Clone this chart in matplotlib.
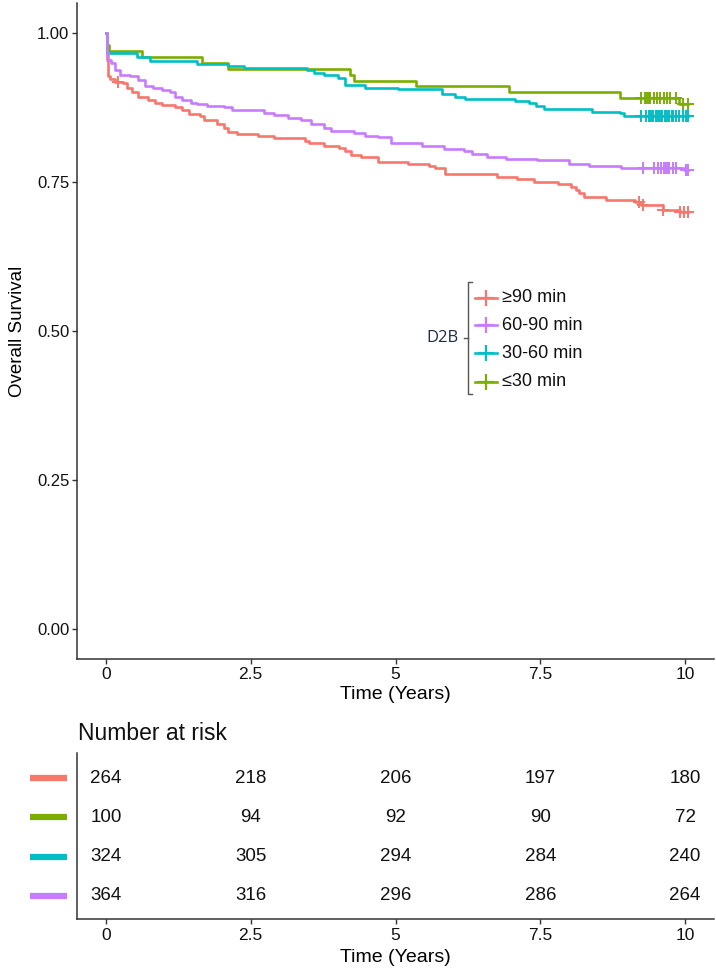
import numpy as np
import matplotlib
matplotlib.use('Agg')
from matplotlib import pyplot as plt
from matplotlib.lines import Line2D
import matplotlib.transforms as mtrans

plt.rcParams['font.family'] = ['Liberation Sans', 'DejaVu Sans']

# Kaplan-Meier step points (time in years, survival)
red_t = [0, 0.01, 0.04, 0.07, 0.16, 0.30, 0.36, 0.45, 0.56, 0.73, 0.85, 0.97, 1.20, 1.31, 1.43,
         1.63, 1.69, 1.92, 2.04, 2.10, 2.27, 2.62, 2.90, 3.43, 3.51, 3.77, 4.03, 4.12, 4.24, 4.41,
         4.70, 5.22, 5.57, 5.68, 5.86, 6.75, 7.10, 7.39, 7.80, 8.03, 8.11, 8.17, 8.26, 8.63, 9.13,
         9.24, 9.62, 9.91]
red_s = [1.0, 0.955, 0.927, 0.922, 0.918, 0.916, 0.907, 0.900, 0.892, 0.888, 0.883, 0.879, 0.875, 0.870, 0.864,
         0.860, 0.854, 0.847, 0.840, 0.834, 0.831, 0.827, 0.823, 0.819, 0.815, 0.810, 0.807, 0.801, 0.795, 0.792,
         0.784, 0.780, 0.776, 0.773, 0.763, 0.758, 0.755, 0.750, 0.747, 0.742, 0.737, 0.731, 0.725, 0.720, 0.717,
         0.711, 0.703, 0.700]
red_cens = [0.20, 9.21, 9.27, 9.62, 9.91, 9.99, 10.05]

purple_t = [0, 0.01, 0.04, 0.08, 0.16, 0.24, 0.42, 0.56, 0.68, 0.82, 0.97, 1.11, 1.20, 1.31, 1.46,
            1.57, 1.75, 2.04, 2.18, 2.73, 2.90, 3.14, 3.37, 3.54, 3.77, 3.89, 4.29, 4.47, 4.70, 4.93,
            5.45, 5.83, 6.18, 6.32, 6.58, 6.90, 7.45, 8.00, 8.35, 8.89, 9.99]
purple_s = [1.0, 0.966, 0.955, 0.949, 0.938, 0.930, 0.927, 0.921, 0.911, 0.907, 0.904, 0.900, 0.892, 0.888, 0.883,
            0.881, 0.878, 0.875, 0.870, 0.865, 0.862, 0.858, 0.854, 0.847, 0.840, 0.836, 0.832, 0.827, 0.825, 0.815,
            0.810, 0.805, 0.801, 0.797, 0.792, 0.789, 0.787, 0.780, 0.777, 0.773, 0.770]
purple_cens = [9.27, 9.47, 9.53, 9.59, 9.64, 9.67, 9.70, 9.73, 9.79, 9.85, 10.02, 10.05]

cyan_t = [0, 0.02, 0.53, 0.76, 1.57, 2.10, 2.38, 3.48, 3.60, 3.77, 4.01, 4.12, 4.47, 5.05, 5.80,
          6.03, 6.20, 7.07, 7.30, 7.42, 7.56, 8.40, 8.87, 8.95]
cyan_s = [1.0, 0.966, 0.960, 0.952, 0.948, 0.945, 0.941, 0.937, 0.932, 0.930, 0.924, 0.913, 0.908, 0.905, 0.898,
          0.893, 0.889, 0.886, 0.882, 0.878, 0.872, 0.868, 0.865, 0.861]
cyan_cens = [9.24, 9.33, 9.37, 9.41, 9.44, 9.49, 9.53, 9.56, 9.61, 9.65, 9.68, 9.73, 9.77, 9.80, 9.85,
             9.90, 9.97, 10.02, 10.05]

green_t = [0, 0.02, 0.06, 0.62, 1.65, 2.11, 4.21, 4.29, 5.35, 6.96, 8.87, 9.90]
green_s = [1.00, 0.98, 0.97, 0.96, 0.95, 0.94, 0.93, 0.92, 0.91, 0.90, 0.89, 0.88]
green_cens = [9.24, 9.31, 9.34, 9.37, 9.40, 9.46, 9.51, 9.57, 9.63, 9.69, 9.74, 9.85, 9.97, 10.05]

# number at risk
risk_times = [0, 2.5, 5, 7.5, 10]
risk_red = [264, 218, 206, 197, 180]
risk_green = [100, 94, 92, 90, 72]
risk_cyan = [324, 305, 294, 284, 240]
risk_purple = [364, 316, 296, 286, 264]

legend_labels = ['\u226590 min', '60-90 min', '30-60 min', '\u226430 min']

RED, GREEN, CYAN, PURPLE = '#F8766D', '#7CAE00', '#00BFC4', '#C77CFF'
AXC = '#333333'

W, H = 716, 969
fig = plt.figure(figsize=(W / 100, H / 100), dpi=100)

def fx(px):
	return px / W

def fy(py):
	return 1 - py / H

ax = fig.add_axes([fx(77), fy(659), fx(714) - fx(77), fy(3) - fy(659)])

groups = [(red_t, red_s, red_cens, RED),
          (green_t, green_s, green_cens, GREEN),
          (cyan_t, cyan_s, cyan_cens, CYAN),
          (purple_t, purple_s, purple_cens, PURPLE)]

for z, (t, s, cens, col) in enumerate(groups):
	t = np.array(t)
	s = np.array(s)
	end = max(cens)
	ax.step(np.append(t, end), np.append(s, s[-1]), where='post', color=col, lw=1.9, zorder=3 + z)
	cy = s[np.searchsorted(t, cens, side='right') - 1]
	ax.plot(cens, cy, ls='none', marker='+', ms=9, mew=1.4, color=col, zorder=3 + z)

ax.set_xlim(-0.5, 10.5)
ax.set_ylim(-0.05, 1.05)
ax.set_xticks(risk_times)
ax.set_xticklabels(['0', '2.5', '5', '7.5', '10'])
ax.set_yticks([0, 0.25, 0.5, 0.75, 1.0])
ax.set_yticklabels(['0.00', '0.25', '0.50', '0.75', '1.00'])
for sp in ('top', 'right'):
	ax.spines[sp].set_visible(False)
for sp in ('left', 'bottom'):
	ax.spines[sp].set_color(AXC)
	ax.spines[sp].set_linewidth(1.1)
ax.tick_params(axis='both', colors=AXC, length=3.5, width=1.0, labelcolor='#111111')
ax.tick_params(axis='x', labelsize=12.5, pad=2)
ax.tick_params(axis='y', labelsize=12, pad=2)
ax.set_xlabel('Time (Years)', fontsize=14, labelpad=3)
ax.set_ylabel('Overall Survival', fontsize=13.5, labelpad=8)

# legend with bracket
leg_cols = [RED, PURPLE, CYAN, GREEN]
leg_rows = [298, 325, 353, 382]
for lab, col, ry in zip(legend_labels, leg_cols, leg_rows):
	fig.add_artist(Line2D([fx(475), fx(497)], [fy(ry), fy(ry)], color=col, lw=1.9))
	fig.add_artist(Line2D([fx(486)], [fy(ry)], marker='+', ms=11, mew=1.6, color=col))
	fig.text(fx(502), fy(ry), lab, fontsize=13, va='center', ha='left', color='#111111')
fig.add_artist(Line2D([fx(472), fx(468), fx(468), fx(472)], [fy(282), fy(282), fy(394), fy(394)],
                      color='#555555', lw=1.0))
fig.add_artist(Line2D([fx(464), fx(468)], [fy(338), fy(338)], color='#555555', lw=1.0))
fig.text(fx(459), fy(338), 'D2B', fontsize=12, va='center', ha='right', color='#1c2a48',
         family=['Open Sans', 'DejaVu Sans'])

# risk table
tab = fig.add_axes([fx(77), fy(919), fx(714) - fx(77), fy(753) - fy(919)])
rows = [(risk_red, RED), (risk_green, GREEN), (risk_cyan, CYAN), (risk_purple, PURPLE)]
trans = mtrans.blended_transform_factory(tab.transAxes, tab.transData)
for i, (vals, col) in enumerate(rows):
	yrow = len(rows) - i
	for xt, v in zip(risk_times, vals):
		tab.text(xt, yrow, str(v), ha='center', va='center', fontsize=13.5, color='#111111')
	tab.plot([-0.0738, -0.0157], [yrow, yrow], color=col, lw=4.5, transform=trans, clip_on=False,
	         solid_capstyle='butt')
tab.set_xlim(-0.5, 10.5)
tab.set_ylim(0.415, 4.636)
tab.set_xticks(risk_times)
tab.set_xticklabels(['0', '2.5', '5', '7.5', '10'])
tab.set_yticks([])
for sp in ('top', 'right'):
	tab.spines[sp].set_visible(False)
for sp in ('left', 'bottom'):
	tab.spines[sp].set_color(AXC)
	tab.spines[sp].set_linewidth(1.1)
tab.tick_params(axis='x', colors=AXC, length=3.5, width=1.0, labelcolor='#111111', labelsize=12.5, pad=3)
tab.set_xlabel('Time (Years)', fontsize=14, labelpad=4)
fig.text(fx(78), fy(733), 'Number at risk', fontsize=16.5, va='center', ha='left', color='#111111')

plt.savefig('out.png', dpi=100)
